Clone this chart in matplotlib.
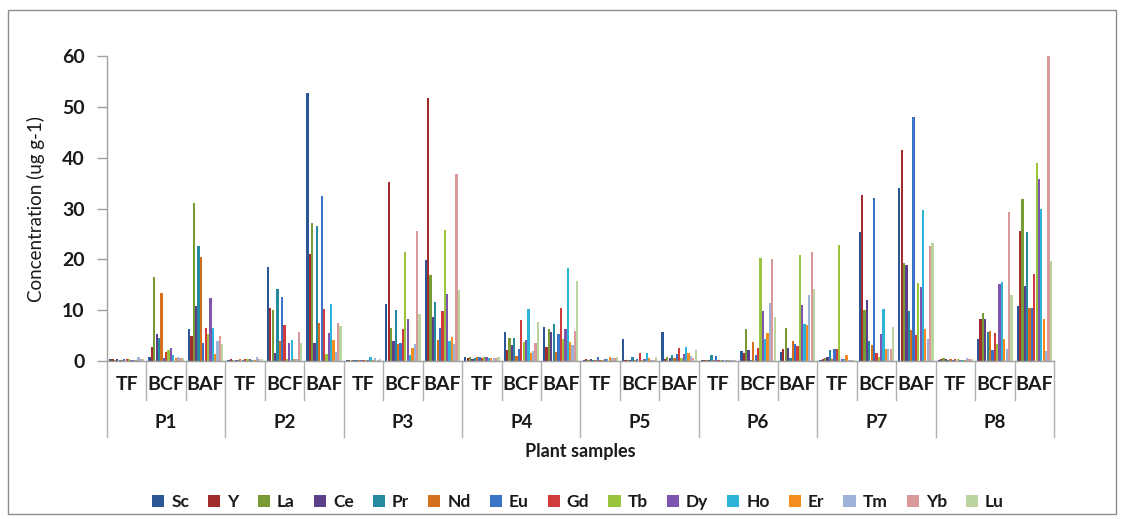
import numpy as np
import matplotlib
matplotlib.use("Agg")
import matplotlib.pyplot as plt
from matplotlib.patches import Rectangle
from matplotlib.lines import Line2D

plt.rcParams['font.family'] = ['Lato', 'DejaVu Sans']

plants = ["P1", "P2", "P3", "P4", "P5", "P6", "P7", "P8"]
factors = ["TF", "BCF", "BAF"]
elements = ["Sc", "Y", "La", "Ce", "Pr", "Nd", "Eu", "Gd", "Tb", "Dy", "Ho", "Er", "Tm", "Yb", "Lu"]

Sc = [0.3, 0.8, 6.2, 0.2, 18.5, 52.8, 0.2, 11.3, 19.8, 0.7, 5.7, 6.7, 0.2, 4.3, 5.7, 0.1, 1.9, 1.8, 0.2, 25.3, 34.0, 0.2, 4.3, 10.8]
Y = [0.4, 2.7, 4.9, 0.3, 10.4, 21.1, 0.2, 35.2, 51.7, 0.6, 2.2, 2.8, 0.3, 0.2, 0.3, 0.1, 1.6, 2.3, 0.3, 32.7, 41.6, 0.3, 8.3, 25.5]
La = [0.1, 16.5, 31.0, 0.1, 10.0, 27.2, 0.2, 6.5, 17.0, 0.7, 4.5, 6.2, 0.2, 0.2, 0.8, 0.1, 6.2, 6.5, 0.5, 10.0, 19.3, 0.5, 9.4, 31.9]
Ce = [0.4, 5.4, 10.8, 0.2, 1.6, 3.5, 0.2, 3.9, 8.7, 0.4, 3.1, 5.8, 0.3, 0.2, 0.5, 0.1, 2.2, 2.6, 0.7, 12.0, 18.9, 0.3, 8.3, 14.7]
Pr = [0.2, 4.5, 22.6, 0.2, 14.1, 26.5, 0.2, 10.1, 11.6, 0.6, 4.5, 7.3, 0.2, 0.8, 1.2, 1.2, 0.1, 0.6, 2.1, 3.9, 9.9, 0.2, 5.7, 25.4]
Nd = [0.2, 13.3, 20.4, 0.3, 3.9, 7.4, 0.2, 3.3, 4.1, 0.7, 1.0, 1.8, 0.2, 0.1, 0.6, 0.1, 3.7, 3.9, 0.4, 3.1, 6.1, 0.3, 6.0, 10.4]
Eu = [0.3, 0.5, 3.5, 0.2, 12.6, 32.5, 0.2, 3.5, 6.4, 0.8, 2.3, 5.4, 0.7, 0.3, 1.4, 0.9, 1.1, 3.4, 2.4, 32.1, 48.0, 0.1, 2.1, 10.4]
Gd = [0.3, 1.8, 6.5, 0.4, 7.1, 10.3, 0.2, 6.3, 9.8, 0.5, 8.0, 10.4, 0.2, 1.5, 2.5, 0.1, 2.6, 2.9, 2.3, 1.6, 5.2, 0.4, 5.6, 17.2]
Tb = [0.4, 2.1, 5.4, 0.3, 0.3, 1.3, 0.2, 21.4, 25.8, 0.8, 3.7, 4.3, 0.2, 0.1, 0.6, 0.1, 20.3, 20.9, 22.8, 0.8, 15.4, 0.3, 3.4, 38.9]
Dy = [0.2, 2.6, 12.4, 0.3, 3.5, 5.6, 0.2, 8.2, 13.1, 0.7, 4.1, 6.2, 0.3, 0.4, 1.4, 0.1, 9.9, 11.0, 0.3, 5.3, 14.5, 0.2, 15.1, 35.9]
Ho = [0.2, 1.1, 6.5, 0.2, 4.1, 11.3, 0.8, 1.1, 3.9, 0.6, 10.3, 18.3, 0.4, 1.5, 2.8, 0.1, 4.4, 7.2, 0.3, 10.3, 29.7, 0.2, 15.6, 29.9]
Er = [0.2, 0.6, 1.3, 0.2, 0.3, 4.1, 0.2, 2.6, 4.8, 0.6, 1.6, 3.7, 0.8, 0.5, 1.5, 0.1, 5.5, 7.1, 1.2, 2.4, 6.3, 0.2, 4.4, 8.2]
Tm = [0.8, 0.8, 3.9, 0.8, 0.3, 1.8, 0.5, 3.3, 3.3, 0.6, 2.0, 3.1, 0.5, 0.2, 1.0, 0.1, 11.5, 13.0, 0.2, 2.3, 4.4, 0.6, 2.3, 2.0]
Yb = [0.3, 0.6, 4.9, 0.3, 5.8, 7.4, 0.2, 25.5, 36.7, 0.5, 3.6, 5.9, 0.6, 0.1, 0.5, 0.1, 20.1, 21.5, 0.1, 2.3, 22.6, 0.3, 29.3, 60.0]
Lu = [0.3, 0.5, 3.3, 0.3, 3.6, 6.9, 0.4, 9.2, 13.9, 0.8, 7.7, 15.7, 0.8, 0.8, 2.2, 0.1, 8.6, 14.1, 0.1, 6.7, 23.2, 0.3, 13.0, 19.6]

series = [Sc, Y, La, Ce, Pr, Nd, Eu, Gd, Tb, Dy, Ho, Er, Tm, Yb, Lu]
colors = ["#2B5797", "#A22B2B", "#789B35", "#5C3E8A", "#25899F", "#D4701C",
          "#3A72C6", "#D23B3B", "#9AC43C", "#7E55AE", "#2DB3D8", "#F58C20",
          "#9DB3D9", "#D9999B", "#BBD4A0"]

W, H = 1124, 519
fig = plt.figure(figsize=(W / 100, H / 100), dpi=100)
ax = fig.add_axes([107 / W, 1 - 361 / H, (1054 - 107) / W, (361 - 56) / H])

ncat = len(plants) * len(factors)
x = np.arange(ncat)
nser = len(series)
group_w = 0.9
bw = group_w / nser
for i, (vals, col) in enumerate(zip(series, colors)):
    ax.bar(x - group_w / 2 + bw * (i + 0.5), vals, width=bw * 0.95, color=col,
           label=elements[i], linewidth=0)

ax.set_xlim(-0.5, ncat - 0.5)
ax.set_ylim(0, 60)
ax.set_yticks(np.arange(0, 61, 10))
ax.tick_params(axis='y', direction='out', length=7, color='#A0A0A0', width=1,
               labelsize=14, labelcolor='#1A1A1A', pad=9)
for lab in ax.get_yticklabels():
    lab.set_fontweight('bold')
ax.set_xticks([])
for s in ['top', 'right']:
    ax.spines[s].set_visible(False)
for s in ['left', 'bottom']:
    ax.spines[s].set_color('#A0A0A0')
    ax.spines[s].set_linewidth(1)

ax.set_ylabel("Concentration (ug g-1)", fontsize=13.5, color='#1A1A1A')
ax.yaxis.set_label_coords(-62 / (1054 - 107), 0.5)

# multi-level category axis
trans = ax.get_xaxis_transform()
ph = 361 - 56
y_inner = -(400 - 361) / ph
y_outer = -(437 - 361) / ph
for b in range(ncat + 1):
    xb = b - 0.5
    yend = y_outer if b % 3 == 0 else y_inner
    ax.add_line(Line2D([xb, xb], [0, yend], transform=trans, color='#B0B0B0',
                       lw=1, clip_on=False))
y_fac = -(385 - 361) / ph
y_pl = -(423 - 361) / ph
for k in range(ncat):
    ax.text(k, y_fac, factors[k % 3], transform=trans, ha='center', va='center',
            fontsize=14, fontweight='bold', color='#1A1A1A')
for p, name in enumerate(plants):
    ax.text(3 * p + 1, y_pl, name, transform=trans, ha='center', va='center',
            fontsize=13.5, fontweight='bold', color='#1A1A1A')
fig.text((107 + 1054) / 2 / W, 1 - 451 / H, "Plant samples", ha='center',
         va='center', fontsize=13, fontweight='bold', color='#1A1A1A')

handles, labels = ax.get_legend_handles_labels()
leg = fig.legend(handles, labels, loc='center', bbox_to_anchor=(578 / W, 1 - 502 / H),
                 ncol=nser, frameon=False, handlelength=0.7, handleheight=0.7,
                 handletextpad=0.4, columnspacing=1.1,
                 prop={'size': 12.5, 'weight': 'bold'})
for t in leg.get_texts():
    t.set_color('#1A1A1A')

fig.patches.append(Rectangle((8 / W, 1 - 514 / H), (1116 - 8) / W, (514 - 10) / H,
                             transform=fig.transFigure, fill=False,
                             edgecolor='#8C8C8C', lw=1))

fig.savefig("out.png", dpi=100)
